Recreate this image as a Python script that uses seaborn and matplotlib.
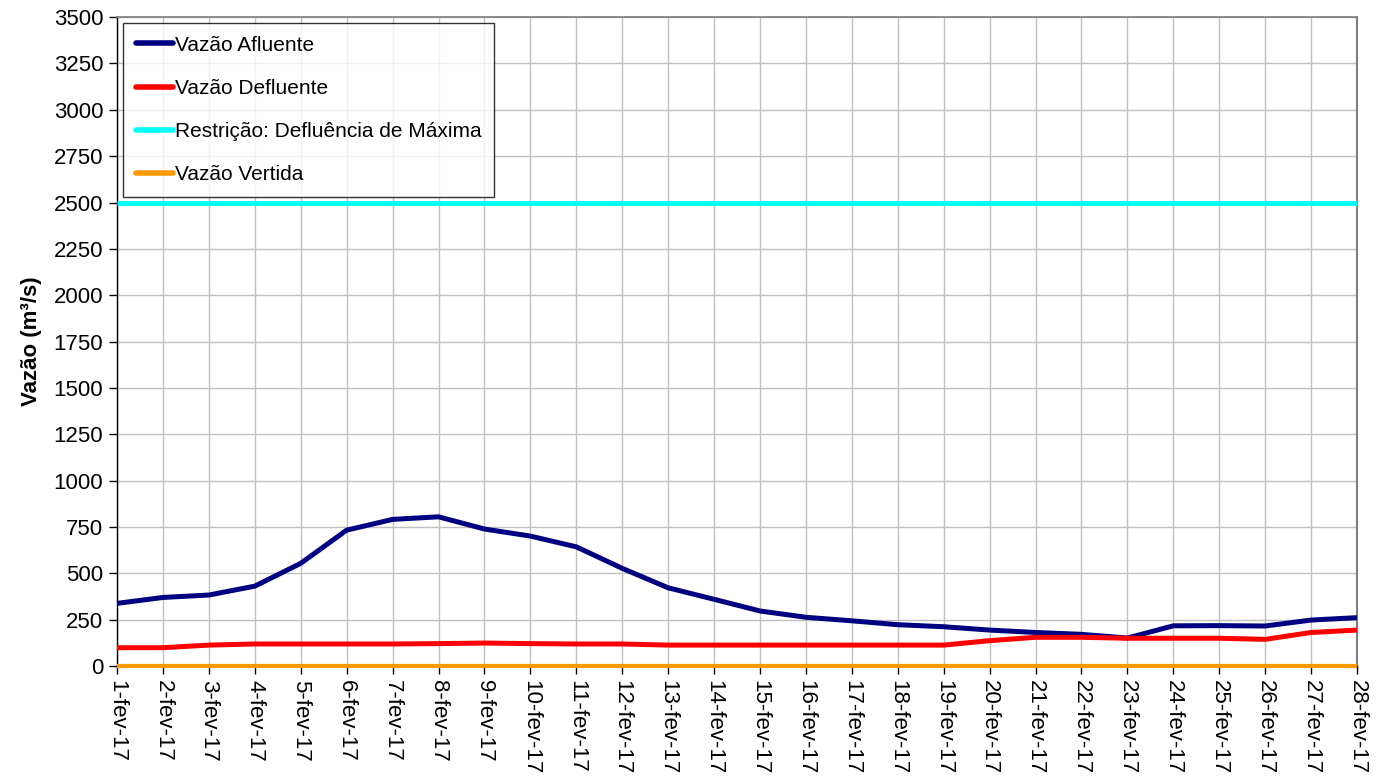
import matplotlib
matplotlib.use("Agg")
import matplotlib.pyplot as plt
import seaborn as sns
import pandas as pd
import numpy as np

dates = [f"{d}-fev-17" for d in range(1, 29)]
afluente = [338, 370, 383, 431, 554, 733, 791, 805, 739, 701, 643, 527, 422, 360,
            297, 263, 244, 223, 212, 194, 181, 171, 151, 217, 218, 216, 248, 261]
defluente = [99, 99, 113, 119, 119, 119, 119, 121, 124, 121, 119, 119, 113, 113,
             113, 113, 113, 113, 113, 137, 155, 155, 150, 150, 150, 144, 181, 194]
restricao = [2500] * 28
vertida = [0] * 28

series_names = ["Vazão Afluente", "Vazão Defluente",
                "Restrição: Defluência de Máxima", "Vazão Vertida"]
series_vals = [afluente, defluente, restricao, vertida]
colors = ["#000080", "#FF0000", "#00FFFF", "#FF9900"]
widths = [3.6, 3.6, 3.6, 3.0]

sns.set_theme(style="white")
plt.rcParams['font.family'] = ['Liberation Sans', 'DejaVu Sans']
plt.rcParams['text.color'] = 'black'
plt.rcParams['axes.labelcolor'] = 'black'
plt.rcParams['xtick.color'] = 'black'
plt.rcParams['ytick.color'] = 'black'

fig = plt.figure(figsize=(13.85, 7.79), dpi=100)
ax = fig.add_axes([0.0845, 0.145, 0.8953, 0.833])

x = np.arange(len(dates))
for i, (name, vals, c, w) in enumerate(zip(series_names, series_vals, colors, widths)):
    df = pd.DataFrame({"x": x, "y": vals})
    sns.lineplot(data=df, x="x", y="y", ax=ax, color=c, linewidth=w, label=name)
for ln in ax.get_lines():
    ln.set_clip_on(False)
    ln.set_zorder(3)
    ln.set_solid_capstyle("butt")

ax.set_xlim(0, len(dates) - 1)
ax.set_ylim(0, 3500)
ax.set_yticks(np.arange(0, 3501, 250))
ax.set_xticks(x)
ax.set_xticklabels(dates, rotation=270, fontsize=16)
ax.tick_params(axis="y", labelsize=16)
ax.tick_params(axis="both", direction="out", length=6, width=1, color="black",
               bottom=True, left=True, pad=4)
ax.set_xlabel("")
ax.set_ylabel("Vazão (m³/s)", fontsize=16, fontweight="bold", labelpad=8)

ax.grid(True, color="#c0c0c0", linewidth=1)
ax.set_axisbelow(True)
for s in ["left", "bottom"]:
    ax.spines[s].set_color("black")
    ax.spines[s].set_linewidth(1)
ax.spines["top"].set_color("#808080")
ax.spines["right"].set_color("#808080")
ax.spines["right"].set_linewidth(1.5)

leg = ax.legend(loc="upper left", fontsize=15,
                frameon=True, fancybox=False, edgecolor="black",
                handlelength=1.8, handletextpad=0.1, labelspacing=1.16,
                borderpad=0.6, borderaxespad=0.29)
leg.get_frame().set_linewidth(1)
leg.set_zorder(5)
for h in leg.get_lines():
    h.set_linewidth(4)
    h.set_solid_capstyle("round")

fig.savefig("out.png", dpi=100)
